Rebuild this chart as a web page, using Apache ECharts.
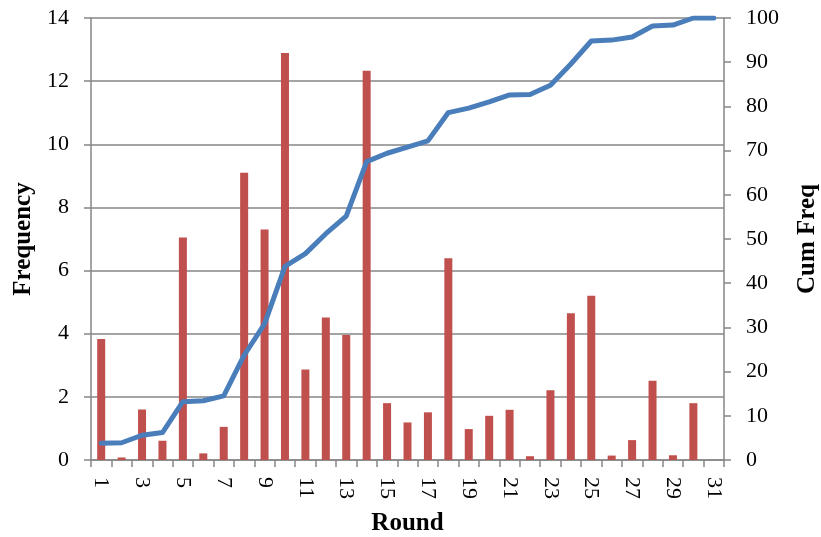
<!DOCTYPE html>
<html>
<head>
<meta charset="utf-8">
<script src="https://cdn.jsdelivr.net/npm/echarts@6/dist/echarts.min.js"></script>
<style>
  html, body { margin: 0; padding: 0; background: #fff; }
  #chart { width: 821px; height: 537px; }
</style>
</head>
<body>
<div id="chart"></div>
<script>
// Rounds 1..31
const rounds = Array.from({ length: 31 }, (_, i) => String(i + 1));

// Frequency (%) per round
const frequency = [3.83, 0.08, 1.6, 0.61, 7.05, 0.21, 1.05, 9.1, 7.3, 12.89,
  2.87, 4.51, 3.96, 12.33, 1.8, 1.19, 1.51, 6.39, 0.98, 1.4,
  1.59, 0.12, 2.21, 4.65, 5.2, 0.14, 0.63, 2.51, 0.15, 1.8, 0];

// Cumulative frequency (%)
const cumFreq = [3.8, 3.9, 5.6, 6.2, 13.2, 13.4, 14.5, 23.7, 30.8, 43.8,
  46.7, 51.2, 55.2, 67.5, 69.4, 70.8, 72.2, 78.6, 79.6, 81.0,
  82.6, 82.7, 84.8, 89.6, 94.8, 95.0, 95.7, 98.2, 98.4, 100, 100];

const serif = '"Liberation Serif", "DejaVu Serif", serif';
const gray = '#868686';

const chart = echarts.init(document.getElementById('chart'), null, { renderer: 'canvas' });
chart.setOption({
  animation: false,
  backgroundColor: '#ffffff',
  grid: { left: 91, right: 97, top: 18, bottom: 77, containLabel: false, outerBoundsMode: 'none' },
  xAxis: {
    type: 'category',
    data: rounds,
    boundaryGap: true,
    name: 'Round',
    nameLocation: 'middle',
    nameGap: 51,
    nameTextStyle: { fontFamily: serif, fontSize: 25, fontWeight: 'bold', color: '#000' },
    axisLine: { lineStyle: { color: gray, width: 1.5 } },
    axisTick: { show: true, interval: 0, alignWithLabel: false, length: 7, lineStyle: { color: gray, width: 1.5 } },
    axisLabel: { interval: 1, rotate: -90, margin: 17, fontFamily: serif, fontSize: 22, color: '#000' }
  },
  yAxis: [
    {
      type: 'value',
      min: 0, max: 14, interval: 2,
      name: 'Frequency',
      nameLocation: 'middle',
      nameRotate: 90,
      nameGap: 55,
      nameTextStyle: { fontFamily: serif, fontSize: 25, fontWeight: 'bold', color: '#000' },
      axisLine: { show: true, lineStyle: { color: gray, width: 1.5 } },
      axisTick: { show: true, length: 7, lineStyle: { color: gray, width: 1.5 } },
      axisLabel: { margin: 22, fontFamily: serif, fontSize: 22, color: '#000' },
      splitLine: { show: true, lineStyle: { color: gray, width: 1.5 } }
    },
    {
      type: 'value',
      min: 0, max: 100, interval: 10,
      position: 'right',
      name: 'Cum Freq',
      nameLocation: 'middle',
      nameRotate: 90,
      nameGap: 71,
      nameTextStyle: { fontFamily: serif, fontSize: 25, fontWeight: 'bold', color: '#000' },
      axisLine: { show: true, lineStyle: { color: gray, width: 1.5 } },
      axisTick: { show: true, length: 7, lineStyle: { color: gray, width: 1.5 } },
      axisLabel: { margin: 22, fontFamily: serif, fontSize: 22, color: '#000' },
      splitLine: { show: false }
    }
  ],
  series: [
    {
      name: 'Frequency',
      type: 'bar',
      data: frequency,
      yAxisIndex: 0,
      barWidth: 8,
      itemStyle: { color: '#C0504D' },
      z: 2
    },
    {
      name: 'Cum Freq',
      type: 'line',
      data: cumFreq,
      yAxisIndex: 1,
      symbol: 'none',
      smooth: false,
      lineStyle: { color: '#4A7EBB', width: 5, join: 'round', cap: 'round' },
      z: 3
    }
  ]
});
</script>
</body>
</html>
